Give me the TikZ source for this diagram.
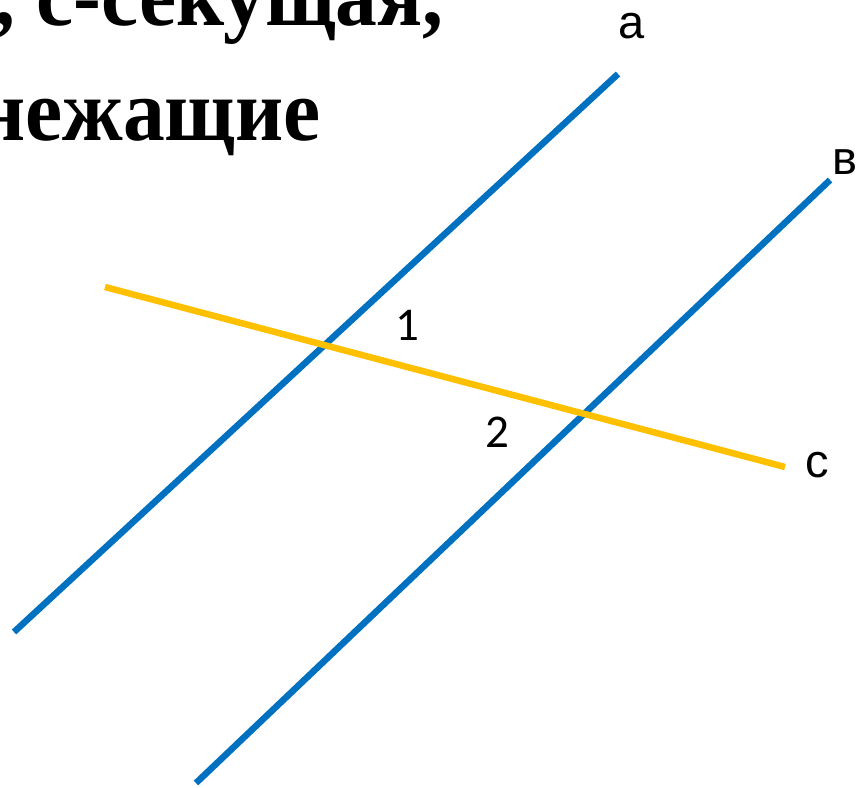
\documentclass[tikz,border=0pt]{standalone}
\usepackage{fontspec}
\usepackage{graphicx}
\newfontfamily\titlefont{Liberation Serif}
\newfontfamily\labfont{Liberation Sans}
\newfontfamily\numfont{Carlito}
\definecolor{lineblue}{HTML}{0070C0}
\definecolor{lineyellow}{HTML}{FFC000}
\begin{document}
\begin{tikzpicture}[x=1pt,y=-1pt,
  bigtext/.style={inner sep=0pt,anchor=base east,font=\titlefont\bfseries\fontsize{88}{88}\selectfont},
  lab/.style={inner sep=0pt,anchor=base,font=\labfont\fontsize{47}{47}\selectfont},
  num/.style={inner sep=0pt,anchor=base,font=\numfont\fontsize{47}{47}\selectfont},
  ln/.style={line width=6.5pt}]
\useasboundingbox (0,0) rectangle (859,787);
\clip (0,0) rectangle (859,787);
\node[bigtext] (t1) at (444,25) {\scalebox{0.95}[1]{, с-секущая,}};
\node[bigtext] (t2) at (321,140) {\scalebox{0.95}[1]{нежащие}};
\coordinate (a1) at (14,632);
\coordinate (a2) at (618,74);
\coordinate (b1) at (196,783);
\coordinate (b2) at (830,180);
\coordinate (c1) at (105,287);
\coordinate (c2) at (785,467);
\draw[ln,lineblue] (a1) -- (a2);
\draw[ln,lineblue] (b1) -- (b2);
\draw[ln,lineyellow] (c1) -- (c2);
\node[lab] (la) at (632,38) {а};
\node[lab] (lb) at (845,174) {в};
\node[lab] (lc) at (817,477) {с};
\node[num] (n1) at (407,340) {1};
\node[num] (n2) at (497,447) {2};
\end{tikzpicture}
\end{document}
